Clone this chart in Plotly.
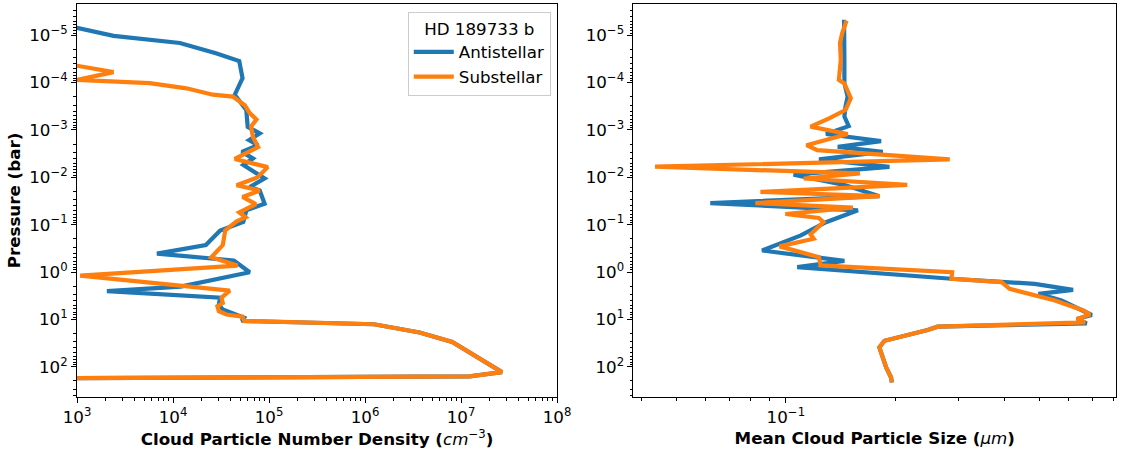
import plotly.graph_objects as go

# ---------------- data ----------------
# Left panel: cloud particle number density (cm^-3) vs pressure (bar)
anti_nd_pressure = [4.7e-6, 7.0e-6, 1.03e-5, 1.46e-5, 2.4e-5, 3.5e-5, 8.1e-5, 1.8e-4, 3.8e-4,
                    8.6e-4, 1.18e-3, 1.64e-3, 2.1e-3, 2.9e-3, 4.0e-3, 5.5e-3, 1.06e-2, 1.6e-2,
                    1.9e-2, 3.6e-2, 5.0e-2, 8.8e-2, 0.133, 0.27, 0.41, 0.57, 1.01, 2.03, 2.53,
                    3.5, 4.9, 6.2, 9.2, 10.8, 12.7, 18.9, 30, 130, 160, 175]
anti_nd = [300, 1.0e3, 2.4e3, 1.18e4, 2.8e4, 4.9e4, 5.3e4, 4.4e4, 5.8e4,
           6.0e4, 8.0e4, 6.2e4, 7.7e4, 5.2e4, 6.8e4, 5.4e4, 9.0e4, 6.3e4,
           8.0e4, 9.0e4, 5.8e4, 5.4e4, 3.1e4, 2.2e4, 6.8e3, 4.3e4, 6.3e4, 1.2e4, 2.05e3,
           3.1e4, 3.0e4, 3.3e4, 5.5e4, 5.2e4, 1.24e6, 3.7e6, 8.1e6, 2.67e7, 1.23e7, 500]

sub_nd_pressure = [4.7e-6, 3.5e-5, 4.4e-5, 6.0e-5, 8.8e-5, 1.03e-4, 1.32e-4, 1.8e-4, 1.98e-4,
                   3.0e-4, 4.4e-4, 6.0e-4, 8.5e-4, 1.39e-3, 2.3e-3, 4.1e-3, 6.1e-3, 1.0e-2,
                   1.47e-2, 1.9e-2, 2.6e-2, 3.7e-2, 5.5e-2, 7.0e-2, 8.5e-2, 0.132, 0.27, 0.49,
                   0.73, 1.19, 2.47, 3.5, 4.5, 5.3, 6.7, 7.9, 8.8, 10.8, 12.7, 18.9, 30,
                   130, 160, 175]
sub_nd = [60, 300, 1.0e3, 2.4e3, 1.0e3, 5.7e3, 1.38e4, 2.6e4, 4.2e4,
          5.6e4, 6.3e4, 7.4e4, 6.5e4, 6.8e4, 7.7e4, 4.4e4, 9.7e4, 7.6e4,
          4.6e4, 8.0e4, 5.3e4, 7.3e4, 4.9e4, 5.7e4, 4.6e4, 3.5e4, 3.3e4, 2.5e4,
          4.7e4, 1.08e3, 3.9e4, 3.2e4, 3.3e4, 2.9e4, 3.0e4, 3.6e4, 5.3e4, 5.5e4, 1.24e6, 3.7e6, 8.1e6,
          2.67e7, 1.23e7, 500]

# Right panel: mean cloud particle size (um) vs pressure (bar)
anti_size_pressure = [4.7e-6, 9.0e-6, 3.3e-5, 1.03e-4, 1.98e-4, 3.2e-4, 5.2e-4, 8.3e-4, 1.22e-3,
                      1.72e-3, 2.27e-3, 2.9e-3, 4.2e-3, 6.0e-3, 8.8e-3, 1.47e-2, 2.5e-2, 3.5e-2,
                      4.98e-2, 8.9e-2, 0.169, 0.351, 0.58, 0.79, 1.39, 1.78, 2.38, 2.9, 4.0,
                      8.1, 9.8, 12.2, 14.3, 16.8, 28.3, 39.2, 104, 169, 216]
anti_size = [0.1447, 0.145, 0.145, 0.145, 0.148, 0.146, 0.145, 0.149, 0.129,
             0.183, 0.139, 0.185, 0.1234, 0.193, 0.105, 0.146, 0.181, 0.0619,
             0.158, 0.129, 0.110, 0.086, 0.145, 0.1075, 0.286, 0.485, 0.619, 0.497, 0.575,
             0.697, 0.634, 0.675, 0.262, 0.246, 0.187, 0.181, 0.189, 0.195, 0.196]

sub_size_pressure = [4.9e-6, 9.0e-6, 1.46e-5, 3.3e-5, 8.8e-5, 1.04e-4, 2.14e-4, 3.8e-4, 5.7e-4,
                     8.5e-4, 1.22e-3, 2.1e-3, 2.67e-3, 4.2e-3, 5.96e-3, 8.3e-3, 1.06e-2, 1.44e-2,
                     2.04e-2, 2.5e-2, 3.5e-2, 4.36e-2, 5.96e-2, 7.2e-2, 8.8e-2, 0.16, 0.198, 0.288,
                     0.485, 0.728, 1.01, 1.39, 1.64, 2.27, 4.0, 6.5, 7.9, 9.8, 11.6, 14.3,
                     16.8, 28.3, 39.2, 104, 169, 216]
sub_size = [0.147, 0.143, 0.141, 0.1417, 0.140, 0.145, 0.151, 0.146, 0.1316,
            0.117, 0.148, 0.114, 0.122, 0.283, 0.0436, 0.160, 0.112, 0.216,
            0.0851, 0.1816, 0.0824, 0.153, 0.0997, 0.1232, 0.127, 0.117, 0.1193, 0.0961,
            0.1234, 0.1247, 0.2873, 0.286, 0.393, 0.414, 0.552, 0.661, 0.689, 0.634, 0.668, 0.262,
            0.246, 0.187, 0.181, 0.189, 0.195, 0.196]

series_names = ["Antistellar", "Substellar"]
legend_title = "HD 189733 b"
y_tick_vals = [1e-5, 1e-4, 1e-3, 1e-2, 1e-1, 1e0, 1e1, 1e2]
y_tick_text = ["10<sup>−5</sup>", "10<sup>−4</sup>", "10<sup>−3</sup>", "10<sup>−2</sup>",
               "10<sup>−1</sup>", "10<sup>0</sup>", "10<sup>1</sup>", "10<sup>2</sup>"]
x1_tick_vals = [1e3, 1e4, 1e5, 1e6, 1e7, 1e8]
x1_tick_text = ["10<sup>3</sup>", "10<sup>4</sup>", "10<sup>5</sup>", "10<sup>6</sup>",
                "10<sup>7</sup>", "10<sup>8</sup>"]
x2_tick_vals = [1e-1]
x2_tick_text = ["10<sup>−1</sup>"]

# ---------------- figure ----------------
BLUE = "#1f77b4"
ORANGE = "#ff7f0e"
FONT = "DejaVu Sans"
FS = 16.7
LW = 4.2

fig = go.Figure()
fig.add_trace(go.Scatter(x=anti_nd, y=anti_nd_pressure, mode="lines", name=series_names[0],
                         line=dict(color=BLUE, width=LW), xaxis="x", yaxis="y"))
fig.add_trace(go.Scatter(x=sub_nd, y=sub_nd_pressure, mode="lines", name=series_names[1],
                         line=dict(color=ORANGE, width=LW), xaxis="x", yaxis="y"))
fig.add_trace(go.Scatter(x=anti_size, y=anti_size_pressure, mode="lines", showlegend=False,
                         line=dict(color=BLUE, width=LW), xaxis="x2", yaxis="y2"))
fig.add_trace(go.Scatter(x=sub_size, y=sub_size_pressure, mode="lines", showlegend=False,
                         line=dict(color=ORANGE, width=LW), xaxis="x2", yaxis="y2"))

minor_log = [m * 10.0 ** e for e in range(-7, 9) for m in range(2, 10)]

axis_common = dict(type="log", showline=True, linecolor="black", linewidth=1.1, mirror=True,
                   ticks="outside", ticklen=5, tickwidth=1.1, tickcolor="black",
                   showgrid=False, zeroline=False, tickmode="array", automargin=False,
                   tickfont=dict(family=FONT, size=FS, color="black"),
                   minor=dict(tickmode="array", tickvals=minor_log, ticks="outside",
                              ticklen=2.8, tickwidth=0.8, tickcolor="black", showgrid=False))

y_range = [2.64, -5.66]

fig.update_layout(
    template="none",
    width=1121, height=452,
    margin=dict(l=77, r=5, t=4, b=55, autoexpand=False),
    paper_bgcolor="white", plot_bgcolor="white",
    font=dict(family=FONT, size=FS, color="black"),
    xaxis=dict(axis_common, domain=[0, 0.462], range=[3, 8], anchor="y",
               tickvals=x1_tick_vals, ticktext=x1_tick_text,
               title=dict(text="<b>Cloud Particle Number Density (</b><i>cm</i><sup>−3</sup><b>)</b>",
                          font=dict(family=FONT, size=FS), standoff=6)),
    yaxis=dict(axis_common, range=y_range, anchor="x",
               tickvals=y_tick_vals, ticktext=y_tick_text,
               title=dict(text="<b>Pressure (bar)</b>", font=dict(family=FONT, size=FS), standoff=4)),
    xaxis2=dict(axis_common, domain=[0.5356, 1], range=[-1.42, -0.09], anchor="y2",
                tickvals=x2_tick_vals, ticktext=x2_tick_text,
                title=dict(text="<b>Mean Cloud Particle Size (</b><i>μm</i><b>)</b>",
                           font=dict(family=FONT, size=FS), standoff=6)),
    yaxis2=dict(axis_common, range=y_range, anchor="x2",
                tickvals=y_tick_vals, ticktext=y_tick_text),
    legend=dict(x=0.456, y=0.98, xanchor="right", yanchor="top",
                bgcolor="rgba(255,255,255,0.8)", bordercolor="#cccccc", borderwidth=1,
                font=dict(family=FONT, size=FS),
                title=dict(text=legend_title, side="top center", font=dict(family=FONT, size=FS)),
                tracegroupgap=0, itemwidth=40),
)

fig.write_html("out.html", config={"displayModeBar": False},
               post_script="document.body.style.margin='0';document.body.style.overflow='hidden';")
